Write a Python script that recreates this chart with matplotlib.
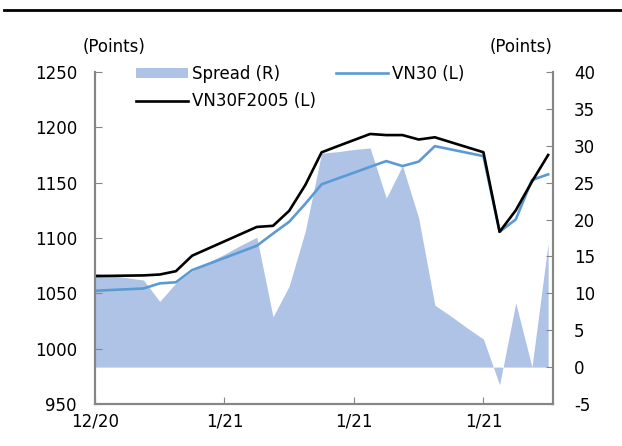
import matplotlib
matplotlib.use("Agg")
import matplotlib.pyplot as plt
import numpy as np
from matplotlib.lines import Line2D

# values, one per trading session
vn30f = [1065.6, 1065.8, 1066.0, 1066.2, 1067.0, 1070.0, 1084.0, 1090.5, 1097.0, 1103.5,
         1110.0, 1111.0, 1124.6, 1148.0, 1177.4, 1183.0, 1188.5, 1194.0, 1193.0, 1193.0,
         1189.0, 1191.0, 1186.5, 1182.0, 1177.5, 1105.6, 1125.0, 1151.0, 1175.0]
vn30 = [1052.3, 1053.0, 1053.7, 1054.4, 1059.0, 1060.0, 1071.0, 1076.5, 1082.0, 1087.5,
        1093.0, 1104.0, 1114.7, 1131.0, 1148.5, 1153.8, 1159.0, 1164.3, 1169.5, 1165.0,
        1169.0, 1183.0, 1180.0, 1177.0, 1174.0, 1105.6, 1116.8, 1152.4, 1157.5]
spread = [12.7, 12.4, 12.1, 11.8, 8.9, 11.4, 13.0, 14.2, 15.3, 16.5,
          17.6, 6.8, 11.0, 18.5, 29.0, 29.2, 29.5, 29.7, 22.9, 27.3,
          20.2, 8.4, 6.9, 5.3, 3.8, -2.4, 8.7, 0.0, 16.8]
tick_pos = [0, 8, 16, 24]
tick_labels = ["12/20", "1/21", "1/21", "1/21"]

plt.rcParams["font.family"] = "DejaVu Sans"
plt.rcParams["font.size"] = 12
plt.rcParams["axes.unicode_minus"] = False

x = np.arange(len(vn30))
gray = "#868686"

fig = plt.figure(figsize=(6.22, 4.46), dpi=100)
ax = fig.add_axes([95 / 622, 1 - 404 / 446, 458 / 622, 332 / 446])
ax2 = ax.twinx()
ax.set_zorder(ax2.get_zorder() + 1)
ax.patch.set_visible(False)

area = ax2.fill_between(x, spread, 0, color="#AFC3E6", lw=0, label="Spread (R)")
l_vn30, = ax.plot(x, vn30, color="#5B9BD5", lw=1.9, label="VN30 (L)")
l_fut, = ax.plot(x, vn30f, color="black", lw=1.9, label="VN30F2005 (L)")

ax.set_xlim(0, 28.3)
ax.set_ylim(950, 1250)
ax.set_yticks(range(950, 1251, 50))
ax2.set_ylim(-5, 40)
ax2.set_yticks(range(-5, 41, 5))
ax.set_xticks(tick_pos)
ax.set_xticklabels(tick_labels)

for a in (ax, ax2):
    a.spines["top"].set_visible(False)
    for s in ("left", "right", "bottom"):
        a.spines[s].set_color(gray)
        a.spines[s].set_linewidth(1.5)
ax.tick_params(axis="y", direction="in", length=5, color=gray, pad=13)
ax.tick_params(axis="x", direction="in", length=5, color=gray, pad=6)
ax2.tick_params(axis="y", direction="in", length=5, color=gray, pad=15)

fig.text(114 / 622, 1 - 47 / 446, "(Points)", ha="center", va="center")
fig.text(521 / 622, 1 - 47 / 446, "(Points)", ha="center", va="center")

ax.legend([area, l_fut, l_vn30], ["Spread (R)", "VN30F2005 (L)", "VN30 (L)"],
          ncol=2, loc="upper left", bbox_to_anchor=(41 / 458, 1.022),
          frameon=False, borderpad=0, borderaxespad=0, handlelength=3.1,
          handleheight=0.55, handletextpad=0.25, columnspacing=1.2,
          labelspacing=0.56)

fig.add_artist(Line2D([0.007, 1], [1 - 10 / 446] * 2, transform=fig.transFigure,
                      color="black", lw=2))

fig.savefig("out.png", dpi=100)
